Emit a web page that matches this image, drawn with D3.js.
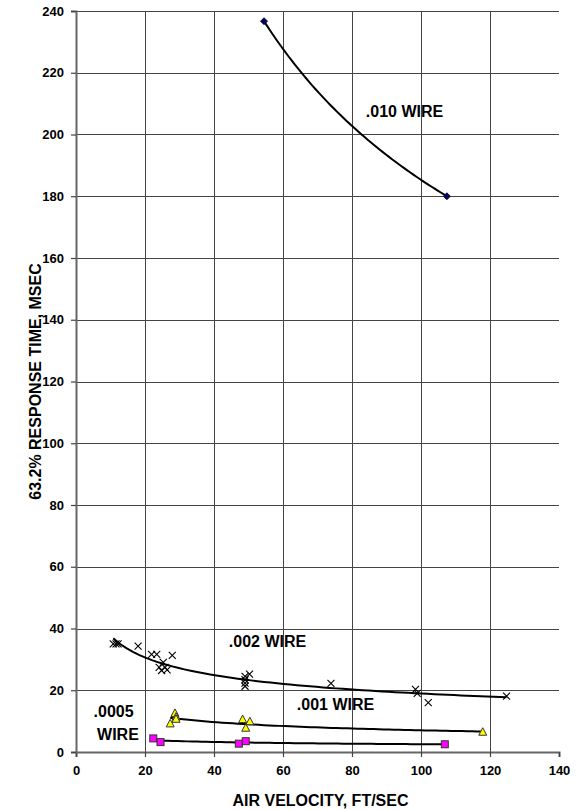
<!DOCTYPE html>
<html>
<head>
<meta charset="utf-8">
<script src="https://cdn.jsdelivr.net/npm/d3@7"></script>
<style>
  body { margin: 0; background: #fff; }
  text { font-family: "Liberation Sans", Arial, sans-serif; font-weight: bold; }
</style>
</head>
<body>
<svg id="chart" width="583" height="810"></svg>
<script>
// values
var wire010 = [[54.5, 236.7], [107.5, 180]];
var wire002 = [[10.8, 35.0], [11.6, 35.0], [12.2, 35.0], [18.0, 34.3], [21.9, 31.6], [23.4, 31.6],
               [27.9, 31.3], [25.3, 29.0], [24.1, 27.4], [24.8, 26.4], [25.8, 27.4], [26.4, 26.6],
               [49.0, 24.5], [49.0, 23.4], [49.0, 22.3], [49.0, 21.3], [50.3, 25.2], [73.9, 22.2],
               [98.4, 20.3], [98.9, 19.0], [102.1, 16.0], [124.8, 18.1]];
var wire001 = [[27.3, 9.1], [28.7, 12.5], [29.0, 11.3], [29.0, 10.6], [48.3, 10.5], [49.2, 7.7],
               [50.4, 9.8], [117.9, 6.4]];
var wire0005 = [[22.4, 4.4], [24.5, 3.2], [47.2, 2.7], [49.2, 3.5], [106.9, 2.5]];

var xTicks = [0, 20, 40, 60, 80, 100, 120, 140];
var yTicks = [0, 20, 40, 60, 80, 100, 120, 140, 160, 180, 200, 220, 240];

var labels = [
    {text: ".010 WIRE", x: 84.0, y: 205.6},
    {text: ".002 WIRE", x: 44.3, y: 34.0},
    {text: ".001 WIRE", x: 64.0, y: 13.6},
    {text: ".0005", x: 5.1, y: 11.3},
    {text: "WIRE", x: 6.1, y: 3.9}
];

var svg = d3.select("#chart");
var M = {left: 76, right: 559, top: 11, bottom: 752};

var x = d3.scaleLinear().domain([0, 140]).range([M.left, M.right]);
var y = d3.scaleLinear().domain([0, 240]).range([M.bottom, M.top]);

// grid
svg.append("g").selectAll("line")
    .data(yTicks.filter(function(d){ return d > 0; }))
    .enter().append("line")
    .attr("x1", M.left).attr("x2", M.right)
    .attr("y1", function(d){ return Math.round(y(d)) + 0.5; })
    .attr("y2", function(d){ return Math.round(y(d)) + 0.5; })
    .style("stroke", "#444").style("stroke-width", 1);

svg.append("g").selectAll("line")
    .data(xTicks.filter(function(d){ return d > 0 && d < 140; }))
    .enter().append("line")
    .attr("y1", M.top).attr("y2", M.bottom)
    .attr("x1", function(d){ return Math.round(x(d)) + 0.5; })
    .attr("x2", function(d){ return Math.round(x(d)) + 0.5; })
    .style("stroke", "#444").style("stroke-width", 1);

// axes
var xAxis = svg.append("g")
    .attr("transform", "translate(0," + M.bottom + ")")
    .call(d3.axisBottom(x).tickValues(xTicks).tickSize(5).tickPadding(9));
var yAxis = svg.append("g")
    .attr("transform", "translate(" + M.left + ",0)")
    .call(d3.axisLeft(y).tickValues(yTicks).tickSize(5).tickPadding(7));

[xAxis, yAxis].forEach(function(a){
    a.select(".domain").style("stroke", "#666").style("stroke-width", 2);
    a.selectAll(".tick line").style("stroke", "#444").style("stroke-width", 1.2);
    a.selectAll(".tick text")
        .style("font-family", "'Liberation Sans', Arial, sans-serif")
        .style("font-weight", "bold").style("font-size", "13px").style("fill", "#000");
});

// power trend line fitted to the points, as the spreadsheet did
function powerFit(pts) {
    var lx = pts.map(function(p){ return Math.log(p[0]); });
    var ly = pts.map(function(p){ return Math.log(p[1]); });
    var mx = d3.mean(lx), my = d3.mean(ly);
    var sxy = d3.sum(lx, function(v, i){ return (v - mx) * (ly[i] - my); });
    var sxx = d3.sum(lx, function(v){ return (v - mx) * (v - mx); });
    var b = sxy / sxx, a = Math.exp(my - b * mx);
    var ext = d3.extent(pts, function(p){ return p[0]; });
    return d3.range(0, 61).map(function(i){
        var xv = ext[0] + (ext[1] - ext[0]) * i / 60;
        return [xv, a * Math.pow(xv, b)];
    });
}

var line = d3.line().x(function(d){ return x(d[0]); }).y(function(d){ return y(d[1]); });

[wire010, wire002, wire001, wire0005].forEach(function(s){
    svg.append("path")
        .attr("d", line(powerFit(s)))
        .style("fill", "none").style("stroke", "#000").style("stroke-width", 2);
});

// markers
svg.append("g").selectAll("path")
    .data(wire002).enter().append("path")
    .attr("transform", function(d){ return "translate(" + x(d[0]) + "," + y(d[1]) + ")"; })
    .attr("d", "M-3.5,-3.5L3.5,3.5M-3.5,3.5L3.5,-3.5")
    .style("stroke", "#000").style("stroke-width", 1.1);

svg.append("g").selectAll("path")
    .data(wire001).enter().append("path")
    .attr("transform", function(d){ return "translate(" + x(d[0]) + "," + y(d[1]) + ")"; })
    .attr("d", "M0,-4.5L4,3L-4,3Z")
    .style("fill", "#ffff00").style("stroke", "#333").style("stroke-width", 1);

svg.append("g").selectAll("rect")
    .data(wire0005).enter().append("rect")
    .attr("x", function(d){ return x(d[0]) - 3.5; })
    .attr("y", function(d){ return y(d[1]) - 3.5; })
    .attr("width", 7).attr("height", 7)
    .style("fill", "#ff00ff").style("stroke", "#333").style("stroke-width", 1);

svg.append("g").selectAll("path")
    .data(wire010).enter().append("path")
    .attr("transform", function(d){ return "translate(" + x(d[0]) + "," + y(d[1]) + ")"; })
    .attr("d", "M0,-3.5L3.5,0L0,3.5L-3.5,0Z")
    .style("fill", "#000066").style("stroke", "#000").style("stroke-width", 0.8);

// wire labels
svg.append("g").selectAll("text")
    .data(labels).enter().append("text")
    .attr("x", function(d){ return x(d.x); })
    .attr("y", function(d){ return y(d.y); })
    .style("font-size", "16px")
    .text(function(d){ return d.text; });

// axis titles
svg.append("text")
    .attr("x", (M.left + M.right) / 2 + 3)
    .attr("y", 806)
    .style("text-anchor", "middle")
    .style("font-size", "16px")
    .text("AIR VELOCITY, FT/SEC");

svg.append("text")
    .attr("transform", "translate(41," + (M.top + M.bottom) / 2 + ") rotate(-90)")
    .style("text-anchor", "middle")
    .style("font-size", "16px")
    .text("63.2% RESPONSE TIME, MSEC");
</script>
</body>
</html>
